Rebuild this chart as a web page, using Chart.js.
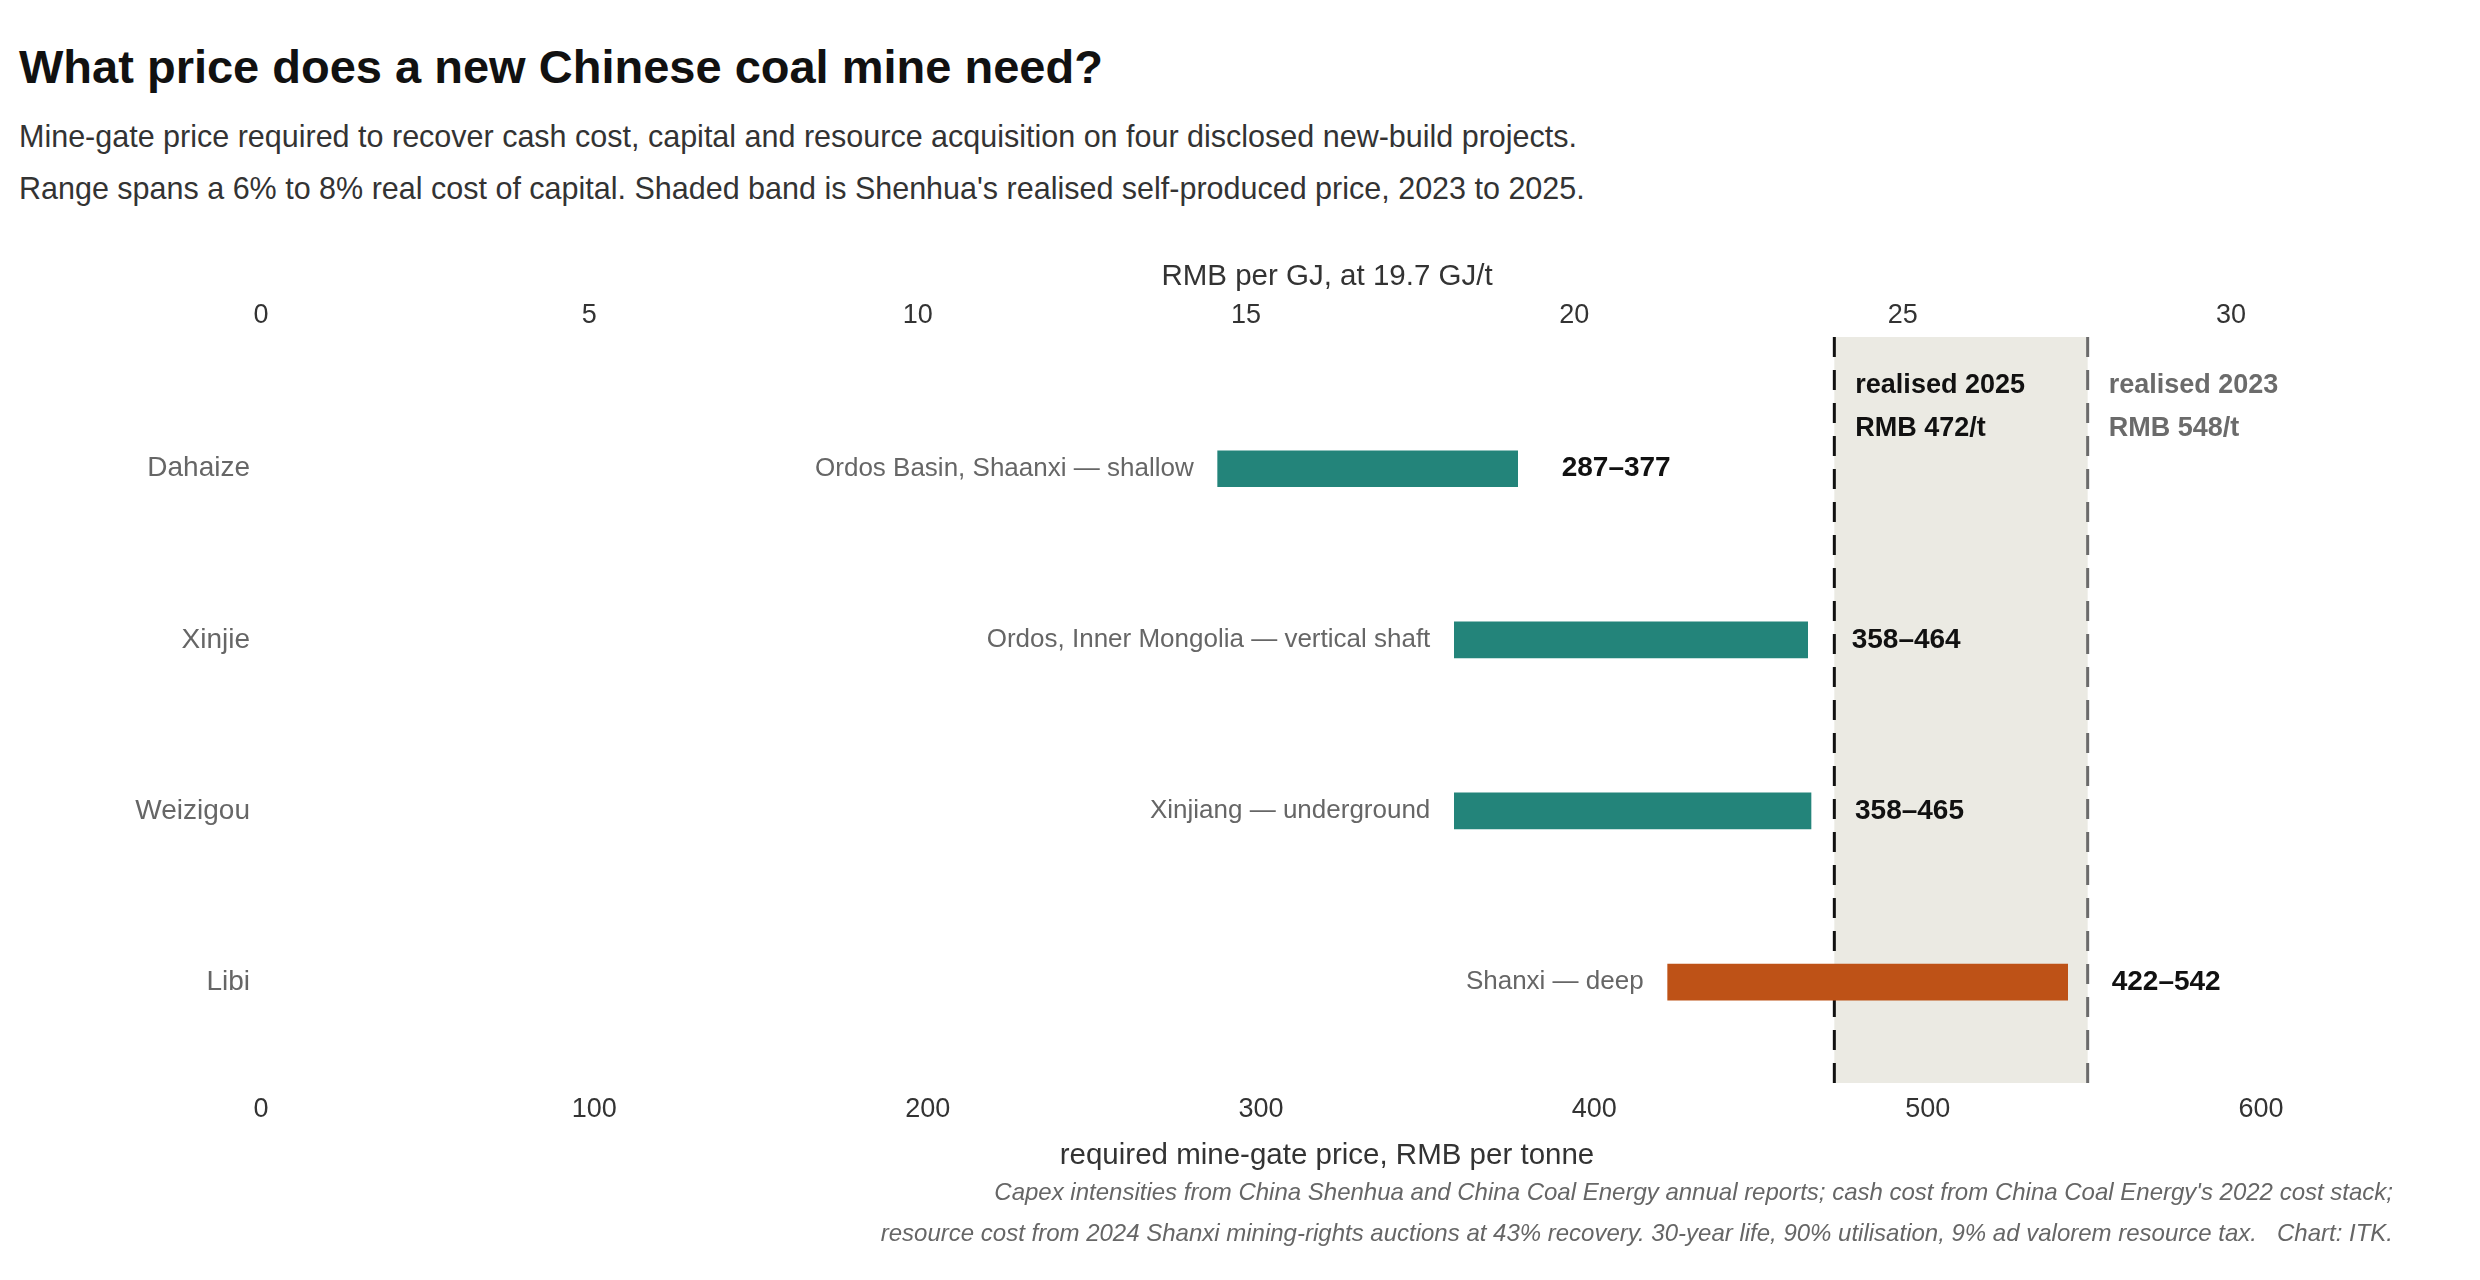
<!DOCTYPE html>
<html>
<head>
<meta charset="utf-8">
<title>What price does a new Chinese coal mine need?</title>
<script src="https://cdn.jsdelivr.net/npm/chart.js@4.4.1/dist/chart.umd.min.js"></script>
<style>
  html, body { margin: 0; padding: 0; background: #fff; }
  body { width: 2480px; height: 1280px; position: relative; overflow: hidden;
         font-family: "Liberation Sans", Arial, Helvetica, sans-serif; }
  #title { position: absolute; left: 19px; top: 43px; font-size: 47px; font-weight: bold;
           color: #111; line-height: 1; }
  #subtitle { position: absolute; left: 19px; top: 110px; font-size: 30.5px; color: #333;
              line-height: 52px; }
  #chartBox { position: absolute; left: 0; top: 240px; width: 2480px; height: 940px; }
  .axisTitle { position: absolute; left: 261px; width: 2132px; text-align: center;
               font-size: 29.5px; color: #333; line-height: 40px; z-index: 2; }
  #topTitle { top: 255px; }
  #bottomTitle { top: 1134px; }
  #footer { position: absolute; right: 87px; top: 1171px; font-size: 24px; font-style: italic;
            color: #666; line-height: 41px; text-align: right; white-space: pre; z-index: 2; }
</style>
</head>
<body>
<div id="title">What price does a new Chinese coal mine need?</div>
<div id="subtitle">Mine-gate price required to recover cash cost, capital and resource acquisition on four disclosed new-build projects.<br>Range spans a 6% to 8% real cost of capital. Shaded band is Shenhua's realised self-produced price, 2023 to 2025.</div>
<div id="chartBox"><canvas id="chart" width="2480" height="940"></canvas></div>
<div class="axisTitle" id="topTitle">RMB per GJ, at 19.7 GJ/t</div>
<div class="axisTitle" id="bottomTitle">required mine-gate price, RMB per tonne</div>
<div id="footer">Capex intensities from China Shenhua and China Coal Energy annual reports; cash cost from China Coal Energy's 2022 cost stack;
resource cost from 2024 Shanxi mining-rights auctions at 43% recovery. 30-year life, 90% utilisation, 9% ad valorem resource tax.   Chart: ITK.</div>

<script>
// Mines and their required mine-gate price range (RMB/t, 8% vs 6% real cost of capital)
const mines = ['Dahaize', 'Xinjie', 'Weizigou', 'Libi'];
const regions = ['Ordos Basin, Shaanxi \u2014 shallow', 'Ordos, Inner Mongolia \u2014 vertical shaft',
                 'Xinjiang \u2014 underground', 'Shanxi \u2014 deep'];
const priceLow = [287, 358, 358, 422];
const priceHigh = [377, 464, 465, 542];

// Shenhua realised self-produced price
const realisedYears = ['2025', '2023'];
const realisedPrices = [472, 548];

// Axes
const tonneTicksMax = 600;
const tonneStep = 100;
const gjStep = 5;
const GJ_PER_TONNE = 19.7;

// styling
const TEAL = '#23847a';
const RUST = '#be5217';
const barColours = mines.map(m => m === 'Libi' ? RUST : TEAL);
const FONT = '"Liberation Sans", Arial, Helvetica, sans-serif';

Chart.defaults.font.family = FONT;
Chart.defaults.color = '#333';

// shaded band + dashed lines for realised prices
const bandPlugin = {
    id: 'realisedBand',
    beforeDatasetsDraw(chart) {
        const { ctx, chartArea, scales } = chart;
        const xa = scales.x.getPixelForValue(realisedPrices[0]);
        const xb = scales.x.getPixelForValue(realisedPrices[1]);
        ctx.save();
        ctx.fillStyle = '#ebeae3';
        ctx.fillRect(xa, chartArea.top, xb - xa, chartArea.bottom - chartArea.top);

        ctx.lineWidth = 3;
        ctx.setLineDash([20, 13]);
        [[xa, '#111'], [xb, '#6b6b6b']].forEach(([x, col]) => {
            ctx.strokeStyle = col;
            ctx.beginPath();
            ctx.moveTo(x, chartArea.top);
            ctx.lineTo(x, chartArea.bottom);
            ctx.stroke();
        });
        ctx.setLineDash([]);

        ctx.font = `bold 27px ${FONT}`;
        ctx.textAlign = 'left';
        ctx.textBaseline = 'middle';
        [[xa, '#111'], [xb, '#6b6b6b']].forEach(([x, col], i) => {
            ctx.fillStyle = col;
            ctx.fillText(`realised ${realisedYears[i]}`, x + 21, chartArea.top + 49);
            ctx.fillText(`RMB ${realisedPrices[i]}/t`, x + 21, chartArea.top + 92);
        });
        ctx.restore();
    }
};

// region label left of each bar, range label right of it
const barLabelPlugin = {
    id: 'barLabels',
    afterDatasetsDraw(chart) {
        const { ctx } = chart;
        const meta = chart.getDatasetMeta(0);
        ctx.save();
        ctx.textBaseline = 'middle';
        meta.data.forEach((bar, i) => {
            const left = Math.min(bar.x, bar.base);
            const right = Math.max(bar.x, bar.base);
            ctx.font = `26px ${FONT}`;
            ctx.fillStyle = '#666';
            ctx.textAlign = 'right';
            ctx.fillText(regions[i], left - 24, bar.y);
            ctx.font = `bold 28px ${FONT}`;
            ctx.fillStyle = '#111';
            ctx.textAlign = 'left';
            ctx.fillText(`${priceLow[i]}\u2013${priceHigh[i]}`, right + 44, bar.y);
        });
        ctx.restore();
    }
};

new Chart(document.getElementById('chart'), {
    type: 'bar',
    data: {
        datasets: [{
            data: mines.map((m, i) => ({ x: [priceLow[i], priceHigh[i]], y: i })),
            backgroundColor: barColours,
            borderWidth: 0,
            borderSkipped: false,
            barThickness: 36
        }]
    },
    options: {
        indexAxis: 'y',
        responsive: false,
        animation: false,
        layout: { padding: { left: 0, right: 219, top: 0, bottom: 0 } },
        plugins: {
            legend: { display: false },
            tooltip: { enabled: false }
        },
        scales: {
            x: {
                type: 'linear',
                position: 'bottom',
                min: 0,
                max: tonneTicksMax,
                grid: { display: false, drawTicks: false },
                border: { display: false },
                ticks: { stepSize: tonneStep, font: { size: 27 }, color: '#333', padding: 10 },
                afterFit: (scale) => { scale.height = 97; }
            },
            x2: {
                type: 'linear',
                position: 'top',
                min: 0,
                max: tonneTicksMax / GJ_PER_TONNE,
                grid: { display: false, drawTicks: false },
                border: { display: false },
                ticks: { stepSize: gjStep, includeBounds: false, font: { size: 27 }, color: '#333', padding: 5 },
                afterFit: (scale) => { scale.height = 97; }
            },
            y: {
                type: 'linear',
                reverse: true,
                offset: false,
                min: -0.77,
                max: 3.59,
                grid: { display: false, drawTicks: false, offset: false },
                border: { display: false },
                afterBuildTicks: (scale) => { scale.ticks = mines.map((m, i) => ({ value: i })); },
                ticks: {
                    callback: (v) => mines[v],
                    font: { size: 28 },
                    color: '#666',
                    padding: 11
                },
                afterFit: (scale) => { scale.width = 261; }
            }
        }
    },
    plugins: [bandPlugin, barLabelPlugin]
});
</script>
</body>
</html>
